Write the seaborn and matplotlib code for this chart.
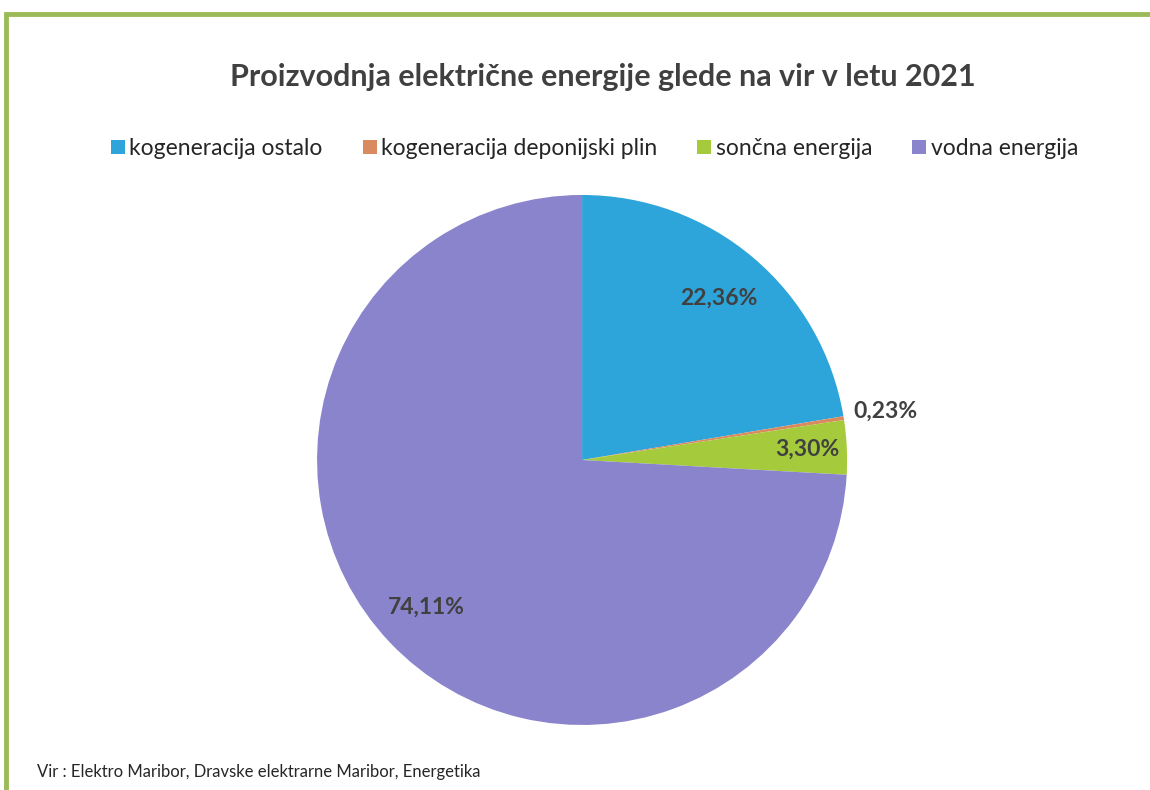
import numpy as np
import matplotlib
matplotlib.use("Agg")
import matplotlib.pyplot as plt
import matplotlib.patches as mpatches
import seaborn as sns

# Data
categories = ["kogeneracija ostalo", "kogeneracija deponijski plin", "sončna energija", "vodna energija"]
shares = [22.36, 0.23, 3.30, 74.11]
share_labels = ["22,36%", "0,23%", "3,30%", "74,11%"]
title = "Proizvodnja električne energije glede na vir v letu 2021"
source = "Vir : Elektro Maribor, Dravske elektrarne Maribor, Energetika"

# Styles
colors = ["#2EA5DA", "#D98A5E", "#A5CB3C", "#8A84CC"]
label_dist = [0.80, 1.16, 0.85, 0.81]

sns.set_theme(style="white")
plt.rcParams["font.family"] = ["Lato", "DejaVu Sans"]

fig = plt.figure(figsize=(11.5, 7.9), dpi=100)
fig.patch.set_facecolor("white")

# green frame
frame = mpatches.Rectangle((6 / 1150, -0.05), 1.2, (790 - 14) / 790 + 0.05,
                           transform=fig.transFigure, fill=False,
                           edgecolor="#9BBB59", linewidth=3.5, zorder=0)
fig.patches.append(frame)

ax = fig.add_axes([0.2757, 0.0823, 0.4609, 0.6709])
wedges, _ = ax.pie(shares, colors=colors, startangle=90, counterclock=False,
                   radius=1.0, wedgeprops=dict(edgecolor="none", linewidth=0))
ax.set_xlim(-1, 1)
ax.set_ylim(-1, 1)
ax.set_aspect("equal")
ax.axis("off")

for w, lab, d in zip(wedges, share_labels, label_dist):
    ang = np.deg2rad((w.theta1 + w.theta2) / 2)
    ax.text(d * np.cos(ang), d * np.sin(ang), lab, ha="center", va="center",
            fontsize=16.5, fontweight="bold", color="#404040")

fig.text(0.524, 0.903, title, ha="center", va="center", fontsize=22,
         fontweight="bold", color="#404040")

handles = [mpatches.Patch(facecolor=c, edgecolor="none") for c in colors]
fig.legend(handles, categories, loc="center", bbox_to_anchor=(0.517, 0.812),
           ncol=4, frameon=False, fontsize=16.5, handlelength=0.6,
           handleheight=0.6, handletextpad=0.2, columnspacing=1.75,
           labelcolor="#262626")

fig.text(37 / 1150, 1 - 772 / 790, source, ha="left", va="center",
         fontsize=12, color="#262626")

fig.savefig("out.png", dpi=100, facecolor="white")
